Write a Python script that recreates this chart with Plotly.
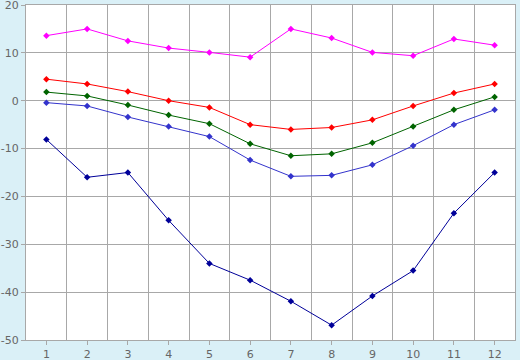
import plotly.graph_objects as go

months = [1, 2, 3, 4, 5, 6, 7, 8, 9, 10, 11, 12]
y_ticks = [-50, -40, -30, -20, -10, 0, 10, 20]
y_tick_labels = ["-50", "-40", "-30", "-20", "-10", "0", "10", "20"]
s_magenta = [13.6, 15.0, 12.5, 11.0, 10.1, 9.1, 15.0, 13.1, 10.1, 9.4, 12.9, 11.6]
s_red = [4.5, 3.5, 1.9, 0.0, -1.4, -5.0, -6.0, -5.6, -4.0, -1.1, 1.6, 3.5]
s_green = [1.8, 1.0, -0.9, -3.0, -4.8, -9.0, -11.5, -11.1, -8.8, -5.4, -1.9, 0.8]
s_blue = [-0.4, -1.1, -3.4, -5.4, -7.5, -12.4, -15.8, -15.6, -13.4, -9.4, -5.0, -1.9]
s_navy = [-8.1, -16.0, -15.0, -25.0, -34.0, -37.5, -41.9, -46.9, -40.8, -35.5, -23.5, -15.0]

series = [
    (s_magenta, "#ff00ff"),
    (s_red, "#ff0000"),
    (s_green, "#006400"),
    (s_blue, "#3333cc"),
    (s_navy, "#000099"),
]

fig = go.Figure()
for vals, col in series:
    fig.add_trace(go.Scatter(
        x=months, y=vals, mode="lines+markers",
        line=dict(color=col, width=1),
        marker=dict(symbol="diamond", size=5, color=col),
        showlegend=False, hoverinfo="skip",
    ))

grid = "#a8a8a8"
fig.update_layout(
    width=520, height=360,
    margin=dict(l=26, r=5, t=5, b=20),
    paper_bgcolor="#daf0f7",
    plot_bgcolor="#ffffff",
    font=dict(family="DejaVu Sans", size=11, color="#666666"),
    xaxis=dict(
        range=[0.5, 12.5], tickvals=months, showgrid=False, automargin=False,
        ticks="outside", ticklen=4, tickcolor=grid, ticklabeloverflow="allow",
        showline=True, linecolor=grid, mirror=True, zeroline=False,
        minor=dict(tick0=0.5, dtick=1, showgrid=True, gridcolor=grid, gridwidth=1, ticks=""),
    ),
    yaxis=dict(
        range=[-50, 20], tickvals=y_ticks, ticktext=y_tick_labels,
        showgrid=True, gridcolor=grid, automargin=False,
        ticks="outside", ticklen=4, tickcolor=grid, ticklabeloverflow="allow",
        showline=True, linecolor=grid, mirror=True, zeroline=False,
    ),
)
fig.write_html("out.html")
